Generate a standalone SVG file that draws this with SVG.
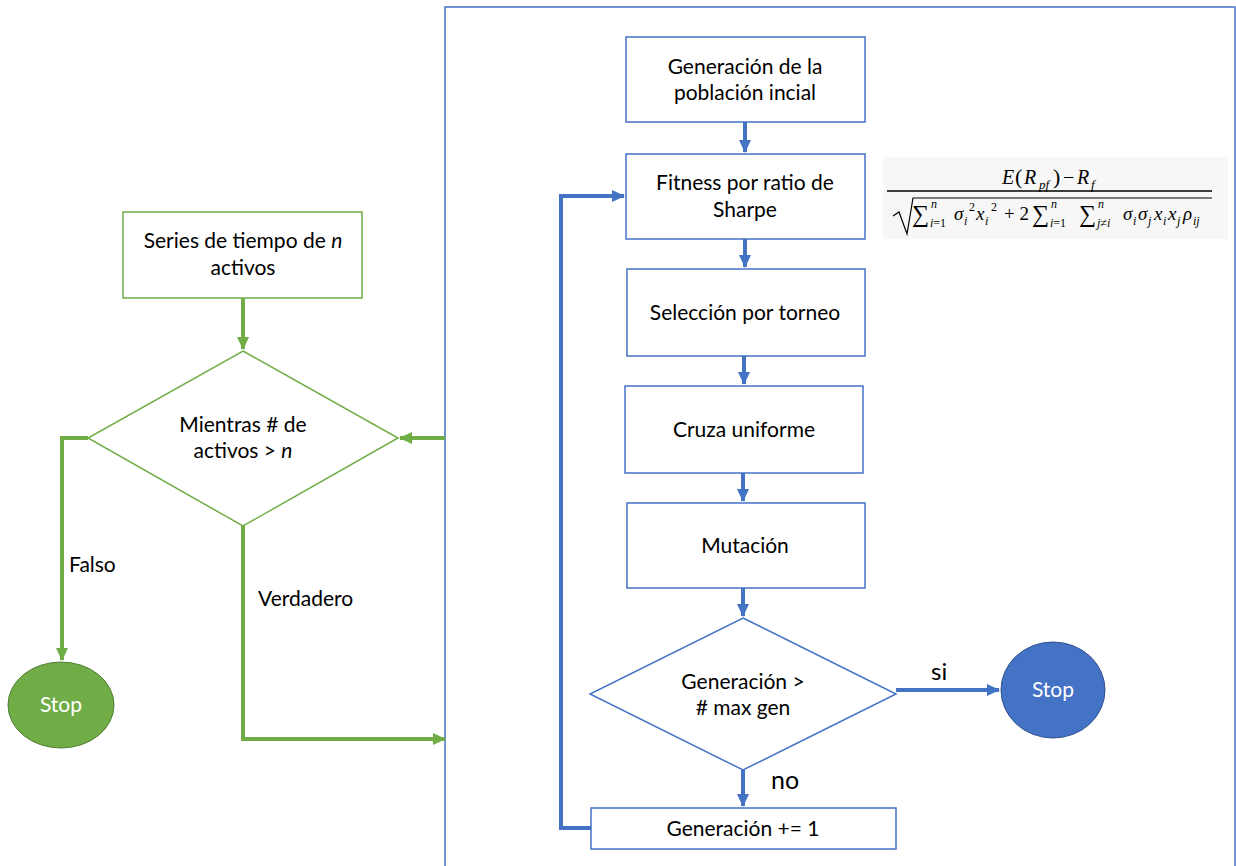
<svg xmlns="http://www.w3.org/2000/svg" width="1236" height="866" viewBox="0 0 1236 866">
<style>
  .t { font-family: Lato, "Noto Sans", "Liberation Sans", sans-serif; font-size: 21px; fill: #000; text-anchor: middle; }
  .tw { font-family: Lato, "Noto Sans", "Liberation Sans", sans-serif; font-size: 21px; fill: #fff; text-anchor: middle; }
  .lbl { font-family: Lato, "Noto Sans", "Liberation Sans", sans-serif; fill: #000; }
  .gbox { fill: #fff; stroke: #70AD47; stroke-width: 1.5; }
  .bbox { fill: #fff; stroke: #4472C4; stroke-width: 1.5; }
  .gline { fill: none; stroke: #70AD47; stroke-width: 4; }
  .bline { fill: none; stroke: #4472C4; stroke-width: 4; }
  .m { font-family: "Liberation Serif", "DejaVu Serif", serif; font-style: italic; fill: #000; }
  .mu { font-family: "Liberation Serif", "DejaVu Serif", serif; fill: #000; }
</style>
<defs>
  <marker id="ag" markerUnits="userSpaceOnUse" markerWidth="14" markerHeight="14" viewBox="0 0 14 14" refX="12" refY="7" orient="auto">
    <path d="M0,1 L13,7 L0,13 Z" fill="#70AD47"/>
  </marker>
  <marker id="ab" markerUnits="userSpaceOnUse" markerWidth="14" markerHeight="14" viewBox="0 0 14 14" refX="12" refY="7" orient="auto">
    <path d="M0,1 L13,7 L0,13 Z" fill="#4472C4"/>
  </marker>
</defs>
<rect width="1236" height="866" fill="#fff"/>

<g id="frame">
  <rect x="445" y="7" width="790" height="880" fill="none" stroke="#4472C4" stroke-width="1.5"/>
</g>

<g id="formula">
  <rect x="883" y="157" width="345" height="82" fill="#f7f7f7"/>
  <text class="m" x="1002" y="184" font-size="20">E</text>
  <text class="mu" x="1015" y="184" font-size="22">(</text>
  <text class="m" x="1024" y="184" font-size="20">R</text>
  <text class="m" x="1039" y="189" font-size="13">pf</text>
  <text class="mu" x="1053" y="184" font-size="22">)</text>
  <text class="mu" x="1063" y="184" font-size="20">−</text>
  <text class="m" x="1077" y="184" font-size="20">R</text>
  <text class="m" x="1091" y="189" font-size="13">f</text>
  <line x1="887" y1="191" x2="1212" y2="191" stroke="#000" stroke-width="1.3"/>
  <path d="M893,216 L899,212 L907,234 L913,198 L1212,198" fill="none" stroke="#000" stroke-width="1.2"/>
  <text class="mu" x="912" y="222" font-size="24">∑</text>
  <text class="m" x="931" y="208" font-size="12">n</text>
  <text class="m" x="930" y="227" font-size="12">i<tspan font-style="normal">=1</tspan></text>
  <text class="m" x="954" y="220" font-size="19">σ</text>
  <text class="m" x="964" y="225" font-size="12">i</text>
  <text class="mu" x="969" y="211" font-size="12">2</text>
  <text class="m" x="976" y="220" font-size="19">x</text>
  <text class="m" x="985" y="225" font-size="12">i</text>
  <text class="mu" x="991" y="211" font-size="12">2</text>
  <text class="mu" x="1004" y="220" font-size="19">+ 2</text>
  <text class="mu" x="1032" y="222" font-size="24">∑</text>
  <text class="m" x="1051" y="208" font-size="12">n</text>
  <text class="m" x="1050" y="227" font-size="12">i<tspan font-style="normal">=1</tspan></text>
  <text class="mu" x="1079" y="222" font-size="24">∑</text>
  <text class="m" x="1098" y="208" font-size="12">n</text>
  <text class="m" x="1097" y="227" font-size="12">j<tspan font-style="normal">≠</tspan>i</text>
  <text class="m" x="1123" y="220" font-size="19">σ</text>
  <text class="m" x="1133" y="225" font-size="12">i</text>
  <text class="m" x="1138" y="220" font-size="19">σ</text>
  <text class="m" x="1148" y="225" font-size="12">j</text>
  <text class="m" x="1154" y="220" font-size="19">x</text>
  <text class="m" x="1163" y="225" font-size="12">i</text>
  <text class="m" x="1168" y="220" font-size="19">x</text>
  <text class="m" x="1177" y="225" font-size="12">j</text>
  <text class="m" x="1183" y="220" font-size="19">ρ</text>
  <text class="m" x="1193" y="225" font-size="12">ij</text>
</g>

<g id="connectors">
  <path class="gline" d="M243,298 L243,349" marker-end="url(#ag)"/>
  <path class="gline" d="M445,438 L400,438" marker-end="url(#ag)"/>
  <path class="gline" d="M88,438 L62,438 L62,660" marker-end="url(#ag)"/>
  <path class="gline" d="M243,526 L243,739 L445,739" marker-end="url(#ag)"/>
  <path class="bline" d="M745,122 L745,152" marker-end="url(#ab)"/>
  <path class="bline" d="M745,239 L745,267" marker-end="url(#ab)"/>
  <path class="bline" d="M744,356 L744,384" marker-end="url(#ab)"/>
  <path class="bline" d="M743,473 L743,501" marker-end="url(#ab)"/>
  <path class="bline" d="M743,588 L743,616" marker-end="url(#ab)"/>
  <path class="bline" d="M743,770 L743,806" marker-end="url(#ab)"/>
  <path class="bline" d="M896,690 L999,690" marker-end="url(#ab)"/>
  <path class="bline" d="M591,828 L561,828 L561,196 L624,196" marker-end="url(#ab)"/>
</g>

<g id="series">
  <rect class="gbox" x="123" y="212" width="239" height="86"/>
  <text class="t" x="243" y="248">Series de tiempo de <tspan font-style="italic">n</tspan></text>
  <text class="t" x="243" y="275">activos</text>
</g>
<g id="mientras">
  <polygon class="gbox" points="243,351 398,438 243,526 88,438"/>
  <text class="t" x="243" y="432">Mientras # de</text>
  <text class="t" x="243" y="458">activos &gt; <tspan font-style="italic">n</tspan></text>
</g>
<g id="stop-green">
  <ellipse cx="61" cy="705" rx="53" ry="43" fill="#70AD47" stroke="#507E32" stroke-width="1"/>
  <text class="tw" x="61" y="712">Stop</text>
</g>
<g id="labels-left">
  <text class="lbl" x="69" y="572" style="font-size:21px">Falso</text>
  <text class="lbl" x="258" y="606" style="font-size:21px">Verdadero</text>
</g>

<g id="gen-inicial">
  <rect class="bbox" x="626" y="37" width="239" height="85"/>
  <text class="t" x="745" y="74">Generación de la</text>
  <text class="t" x="745" y="100">población incial</text>
</g>
<g id="fitness">
  <rect class="bbox" x="626" y="154" width="239" height="85"/>
  <text class="t" x="745" y="190">Fitness por ratio de</text>
  <text class="t" x="745" y="217">Sharpe</text>
</g>
<g id="seleccion">
  <rect class="bbox" x="627" y="269" width="238" height="87"/>
  <text class="t" x="745" y="320">Selección por torneo</text>
</g>
<g id="cruza">
  <rect class="bbox" x="625" y="386" width="238" height="87"/>
  <text class="t" x="744" y="437">Cruza uniforme</text>
</g>
<g id="mutacion">
  <rect class="bbox" x="627" y="503" width="238" height="85"/>
  <text class="t" x="745" y="553">Mutación</text>
</g>
<g id="generacion-check">
  <polygon class="bbox" points="743,618 896,694 743,770 590,694"/>
  <text class="t" x="743" y="689">Generación &gt;</text>
  <text class="t" x="743" y="715"># max gen</text>
</g>
<g id="stop-blue">
  <ellipse cx="1053" cy="690" rx="52" ry="48" fill="#4472C4" stroke="#2F528F" stroke-width="1"/>
  <text class="tw" x="1053" y="697">Stop</text>
</g>
<g id="gen-inc">
  <rect class="bbox" x="591" y="808" width="305" height="41"/>
  <text class="t" x="743" y="836">Generación += 1</text>
</g>
<g id="labels-right">
  <text class="lbl" x="931" y="680" style="font-size:24px">si</text>
  <text class="lbl" x="771" y="789" style="font-size:25px">no</text>
</g>
</svg>
